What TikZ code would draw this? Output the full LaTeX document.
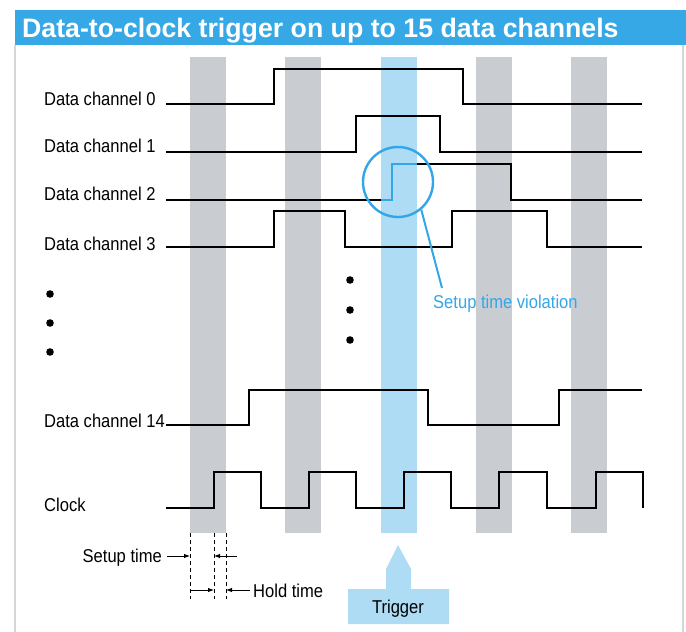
\documentclass[tikz,border=0pt]{standalone}
\usepackage{fontspec}
\setmainfont{Liberation Sans}
\newfontfamily\lblfont[FakeStretch=0.89]{Liberation Sans}
\usetikzlibrary{arrows.meta}

\definecolor{titleblue}{RGB}{54,168,230}
\definecolor{hiblue}{RGB}{51,166,232}
\definecolor{stripegray}{RGB}{201,205,209}
\definecolor{stripeblue}{RGB}{174,220,245}
\definecolor{framegray}{RGB}{212,214,216}

\tikzset{
  wave/.style={line width=2.9pt, line join=miter, line cap=butt},
  lbl/.style={anchor=base west, inner sep=0pt, font=\lblfont\fontsize{18.6}{22}\selectfont},
  note/.style={inner sep=0pt, font=\lblfont\fontsize{18.6}{22}\selectfont},
  guide/.style={line width=0.9pt, dash pattern=on 4pt off 3pt},
  dimarrow/.style={line width=0.9pt, -{Latex[length=6pt,width=4.5pt]}},
  dot/.style={circle, fill=black, inner sep=0pt, minimum size=7.6pt}
}

\begin{document}
\begin{tikzpicture}[x=1pt,y=-1pt]
\useasboundingbox (0,0) rectangle (686,632);

% heading bar and frame
\fill[titleblue] (14.5,10) rectangle (686,45);
\node[anchor=base west, inner sep=0pt, text=white,
      font=\fontsize{26.7}{30}\selectfont\bfseries] (title) at (22,37)
      {Data-to-clock trigger on up to 15 data channels};
\draw[framegray, line width=1.5pt] (15,45) -- (15,632);
\draw[framegray, line width=1.5pt] (683,45) -- (683,632);

% clock windows
\foreach \xl in {190,285,476,571}
  \fill[stripegray] (\xl,57) rectangle ++(36,476);
\fill[stripeblue] (381,57) rectangle (417,533);

% channel labels
\node[lbl] (l0)  at (44,105) {Data channel 0};
\node[lbl] (l1)  at (44,152.5) {Data channel 1};
\node[lbl] (l2)  at (44,200) {Data channel 2};
\node[lbl] (l3)  at (44,250) {Data channel 3};
\node[lbl] (l14) at (44,427) {Data channel 14};
\node[lbl] (lck) at (44,511) {Clock};

% waveforms
\draw[wave] (166,104) -- (274,104) -- (274,69) -- (463,69) -- (463,104) -- (642,104);
\draw[wave] (166,152) -- (356,152) -- (356,116) -- (440,116) -- (440,152) -- (642,152);
\draw[wave] (166,200) -- (381,200);
\draw[wave, hiblue] (381,200) -- (392,200) -- (392,164) -- (417,164);
\draw[wave] (417,164) -- (511,164) -- (511,200) -- (642,200);
\draw[wave] (166,247) -- (274,247) -- (274,211) -- (345,211) -- (345,247)
  -- (452,247) -- (452,211) -- (547,211) -- (547,247) -- (642,247);
\draw[wave] (166,425) -- (249,425) -- (249,390) -- (428,390) -- (428,425)
  -- (559,425) -- (559,390) -- (642,390);
\draw[wave] (166,508) -- (214,508) -- (214,472) -- (261,472) -- (261,508)
  -- (309,508) -- (309,472) -- (356,472) -- (356,508)
  -- (404,508) -- (404,472) -- (451,472) -- (451,508)
  -- (499,508) -- (499,472) -- (547,472) -- (547,508)
  -- (596,508) -- (596,472) -- (643,472) -- (643,508);

% omitted channels
\node[dot] (d1) at (50,294) {};
\node[dot] (d2) at (50,323) {};
\node[dot] (d3) at (50,352) {};
\node[dot] (m1) at (350,280) {};
\node[dot] (m2) at (350,310) {};
\node[dot] (m3) at (350,340) {};

% setup violation callout
\node[circle, draw=hiblue, line width=2.4pt, minimum size=70pt, inner sep=0pt] (viocirc) at (398,182) {};
\node[note, anchor=base west, text=hiblue] (viotext) at (433,308) {Setup time violation};
\coordinate (leadend) at (442,288);
\draw[hiblue, line width=2pt] (viocirc.-50) -- (leadend);

% setup and hold time dimensions
\coordinate (s0) at (190,533);
\coordinate (s1) at (214,533);
\coordinate (s2) at (226,533);
\draw[guide] (s0) -- ++(0,66);
\draw[guide] (s1) -- ++(0,66);
\draw[guide] (s2) -- ++(0,66);
\node[note, anchor=base east] (setup) at (162,562) {Setup time};
\node[note, anchor=base west] (hold) at (253,597) {Hold time};
\coordinate (sa) at (190,556);
\coordinate (sb) at (214,556);
\coordinate (sc) at (237,556);
\coordinate (ha) at (190,590);
\coordinate (hb) at (214,590);
\coordinate (hc) at (226,590);
\draw[dimarrow] (setup.east |- sa) ++(5,0) -- (sa);
\draw[dimarrow] (sc) -- (sb);
\draw[dimarrow] (ha) -- (hb);
\draw[dimarrow] (hold.west |- hc) ++(-3,0) -- (hc);

% trigger marker
\fill[stripeblue] (398,545) -- (411,569) -- (411,589) -- (449,589) -- (449,624)
  -- (348,624) -- (348,589) -- (386,589) -- (386,569) -- cycle;
\node[note, anchor=base] (trig) at (398,613) {Trigger};
\end{tikzpicture}
\end{document}
